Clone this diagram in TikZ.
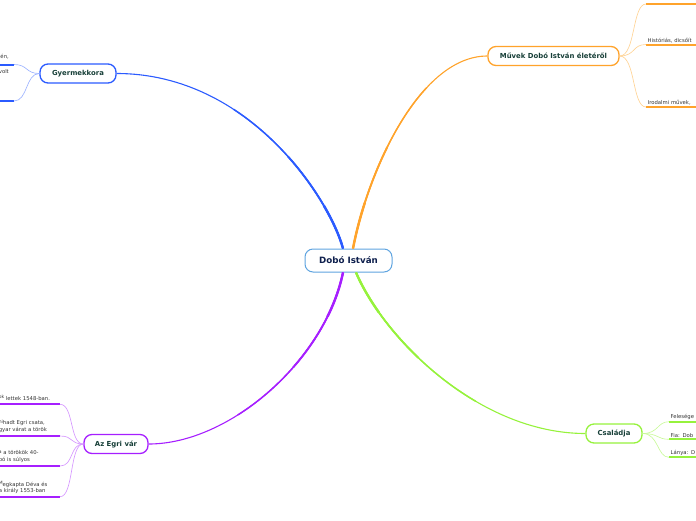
\documentclass[tikz,border=0pt]{standalone}
\usepackage{fontspec}
\setmainfont{DejaVu Sans}
\usetikzlibrary{positioning,calc}
\definecolor{blue500}  {HTML}{2B5BFF}
\definecolor{blue200}  {HTML}{9DB3FF}
\definecolor{sky400}   {HTML}{5FA4E0}
\definecolor{orange400}{HTML}{FFA32B}
\definecolor{orange200}{HTML}{FFD394}
\definecolor{purple500}{HTML}{A61FFF}
\definecolor{purple200}{HTML}{D597FF}
\definecolor{lime400}  {HTML}{96F23C}
\definecolor{lime200}  {HTML}{C9F99A}
\definecolor{ink}      {HTML}{173F38}
\definecolor{navy}     {HTML}{0E1F4D}
\definecolor{grey700}  {HTML}{333333}
\newcommand{\raised}[1]{\raisebox{1.2pt}{\fontsize{4.5}{5}\selectfont #1}}
% the four main branches, drawn at a given width
\newcommand{\limbs}[1]{%
  \draw[limb=blue500, line width=#1] ([xshift=-5.5pt]dobo.north)
    .. controls (330,200) and (250,73.5) .. (gyer.east);
  \draw[limb=orange400, line width=#1] ([xshift=4.5pt]dobo.north)
    .. controls (368,170) and (420,56) .. (muvek.west);
  \draw[limb=purple500, line width=#1] ([xshift=-5.5pt]dobo.south)
    .. controls (325,360) and (230,444) .. (egri.east);
  \draw[limb=lime400, line width=#1] ([xshift=7.5pt]dobo.south)
    .. controls (385,340) and (480,433.5) .. (csal.west);}
\tikzset{
  root/.style  ={draw=sky400, line width=1pt, fill=white, rounded corners=8pt,
                 minimum width=87pt, minimum height=23pt, text=navy,
                 font=\bfseries\fontsize{8.7}{10}\selectfont},
  topic/.style ={draw=#1, line width=1.3pt, fill=white, rounded corners=8pt,
                 minimum height=19pt, text=ink,
                 font=\bfseries\fontsize{6.9}{8}\selectfont},
  leafl/.style ={anchor=south east, inner sep=1.5pt, text=grey700,
                 font=\fontsize{5.3}{6.2}\selectfont},
  leafr/.style ={anchor=south west, inner sep=1.5pt, text=grey700,
                 align=left, font=\fontsize{5.3}{6.2}\selectfont},
  uline/.style ={draw=#1, line width=2pt},
  twig/.style  ={draw=#1, line width=0.65pt},
  limb/.style  ={draw=#1, line cap=butt}
}
\begin{document}
\begin{tikzpicture}[x=1pt, y=-1pt]
\useasboundingbox (0,0) rectangle (696,520);
\clip (0,0) rectangle (696,520);

\path (348.5,260.5) coordinate (mid);
\node[root] (dobo) at (mid) {Dobó István};
\node[topic=blue500, minimum width=76pt] (gyer) at (78,73.5) {Gyermekkora};
\node[topic=orange400, minimum width=131pt] (muvek) at (553.5,56) {Művek Dobó István életéről};
\node[topic=purple500, minimum width=64pt] (egri) at (116,444) {Az Egri vár};
\node[topic=lime400, minimum width=56pt] (csal) at (614,433.5) {Családja};

% main branches, thicker near the root
\limbs{1.1pt}
\foreach \r/\w in {190/1.5pt, 120/1.9pt, 60/2.4pt}{
  \begin{scope}
    \clip (mid) circle (\r);
    \limbs{\w}
  \end{scope}
}

% Gyermekkora
\node[leafl, text width=58pt, align=right, text depth=4pt] (g1) at (14,64.5)
  {én,\hspace*{3.5pt}};
\node[leafl, text width=58pt, align=right, text depth=26pt] (g2) at (14,101)
  {volt\hspace*{3.5pt}};
\foreach \n in {g1,g2}{
  \draw[uline=blue500] (\n.south west) -- (\n.south east);
  \draw[twig=blue200] (gyer.west) .. controls +(-14,0) and +(14,0) .. (\n.south east);
}

% Muvek
\node[leafr, text width=60pt] (m1) at (646,4) {};
\node[leafr, text width=60pt] (m2) at (646,44.5) {Históriás, dicsőít};
\node[leafr, text width=60pt] (m3) at (646,107) {Irodalmi művek,};
\foreach \n in {m1,m2,m3}{
  \draw[uline=orange400] (\n.south west) -- (\n.south east);
  \draw[twig=orange200] (muvek.east) .. controls +(16,0) and +(-14,0) .. (\n.south west);
}

% Egri var
\node[leafl, text width=59.5pt, align=left, text depth=2.5pt] (e1) at (60,404.3)
  {\raised{ok} lettek 1548-ban.};
\node[leafl, text width=59.5pt, align=left, text depth=9.5pt] (e2) at (60,436)
  {\raised{hi}hadt Egri csata,\\gyar várat a török};
\node[leafl, text width=59.5pt, align=left, text depth=9.5pt] (e3) at (60,466)
  {\raised{a} a törökök 40-\\bó is súlyos};
\node[leafl, text width=59.5pt, align=left, text depth=9pt] (e4) at (60,496.7)
  {\raised{M}egkapta Déva és\\a király 1553-ban};
\foreach \n in {e1,e2,e3,e4}{
  \draw[uline=purple500] (\n.south west) -- (\n.south east);
  \draw[twig=purple200] (egri.west) .. controls +(-14,0) and +(14,0) .. (\n.south east);
}

% Csaladja
\node[leafr, text width=40pt] (c1) at (669,421.7) {Felesége};
\node[leafr, text width=40pt] (c2) at (669,439.3) {Fia: Dob};
\node[leafr, text width=40pt] (c3) at (669,457.3) {Lánya: D};
\foreach \n in {c1,c2,c3}{
  \draw[uline=lime400] (\n.south west) -- (\n.south east);
  \draw[twig=lime200] (csal.east) .. controls +(16,0) and +(-12,0) .. (\n.south west);
}
\end{tikzpicture}
\end{document}
